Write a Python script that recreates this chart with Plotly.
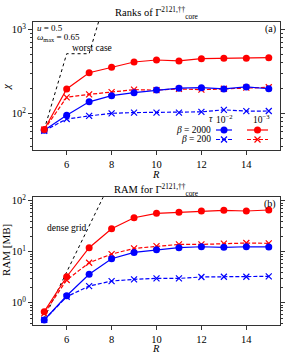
import plotly.graph_objects as go

R = [5, 6, 7, 8, 9, 10, 11, 12, 13, 14, 15]

# Panel (a): ranks chi
chi_b2000_t2 = [63, 95, 137, 162, 176, 189, 199, 202, 195, 206, 196]
chi_b2000_t3 = [64, 195, 304, 353, 408, 431, 420, 447, 452, 452, 459]
chi_b200_t2 = [62, 85.5, 93, 100, 102, 102, 102, 104, 110, 106, 106.5]
chi_b200_t3 = [64, 155, 168, 179, 191, 189, 195, 191, 196, 202, 204]
R_worst = [5, 6, 7, 8]
chi_worst = [64, 512, 512, 4096]

# Panel (b): RAM [MB]
ram_b2000_t2 = [0.458, 1.37, 3.6, 7.3, 9.7, 10.96, 12.0, 12.5, 12.2, 12.5, 12.4]
ram_b2000_t3 = [0.667, 3.23, 12.0, 28.3, 46.4, 56.6, 59.2, 62.8, 64.7, 62.8, 65.7]
ram_b200_t2 = [0.46, 1.31, 2.12, 2.66, 2.87, 3.0, 3.0, 3.19, 3.23, 3.23, 3.29]
ram_b200_t3 = [0.62, 2.79, 6.08, 9.0, 11.6, 12.9, 13.9, 13.9, 14.4, 14.8, 14.6]
R_dense = [5, 6, 7, 8]
ram_dense = [0.5, 4, 32, 256]

x_ticks = [6, 8, 10, 12, 14]
top_ticks = [100, 1000]
top_ticktext = ["10<sup>2</sup>", "10<sup>3</sup>"]
bot_ticks = [1, 10, 100]
bot_ticktext = ["10<sup>0</sup>", "10<sup>1</sup>", "10<sup>2</sup>"]

BLUE = "#0000ff"
RED = "#ff0000"
FONT = "Liberation Serif"
DASH = "4px,2px"

fig = go.Figure()

def add_series(x, y, color, solid, xa, ya):
    if solid:
        fig.add_trace(go.Scatter(x=x, y=y, mode="lines+markers", xaxis=xa, yaxis=ya,
                                 line=dict(color=color, width=1.2),
                                 marker=dict(symbol="circle", size=7, color=color),
                                 showlegend=False))
    else:
        fig.add_trace(go.Scatter(x=x, y=y, mode="lines+markers", xaxis=xa, yaxis=ya,
                                 line=dict(color=color, width=1.2, dash=DASH),
                                 marker=dict(symbol="x-thin", size=6, color=color,
                                             line=dict(color=color, width=1.2)),
                                 showlegend=False))

# top panel
fig.add_trace(go.Scatter(x=R_worst, y=chi_worst, mode="lines", xaxis="x", yaxis="y",
                         line=dict(color="black", width=1, dash="dot"), showlegend=False))
add_series(R, chi_b200_t2, BLUE, False, "x", "y")
add_series(R, chi_b200_t3, RED, False, "x", "y")
add_series(R, chi_b2000_t2, BLUE, True, "x", "y")
add_series(R, chi_b2000_t3, RED, True, "x", "y")

# bottom panel
fig.add_trace(go.Scatter(x=R_dense, y=ram_dense, mode="lines", xaxis="x2", yaxis="y2",
                         line=dict(color="black", width=1, dash="dot"), showlegend=False))
add_series(R, ram_b200_t2, BLUE, False, "x2", "y2")
add_series(R, ram_b200_t3, RED, False, "x2", "y2")
add_series(R, ram_b2000_t2, BLUE, True, "x2", "y2")
add_series(R, ram_b2000_t3, RED, True, "x2", "y2")

# legend samples on a pixel-coordinate overlay axis
for (x0, x1, color, solid, yy) in [(216, 232, BLUE, True, 130), (247, 268, RED, True, 130),
                                   (216, 232, BLUE, False, 139.5), (247, 268, RED, False, 139.5)]:
    xm = (x0 + x1) / 2
    if solid:
        fig.add_trace(go.Scatter(x=[x0, xm, x1], y=[yy, yy, yy], mode="lines", xaxis="x3", yaxis="y3",
                                 line=dict(color=color, width=1.2), showlegend=False))
        fig.add_trace(go.Scatter(x=[xm], y=[yy], mode="markers", xaxis="x3", yaxis="y3",
                                 marker=dict(symbol="circle", size=7, color=color), showlegend=False))
    else:
        fig.add_trace(go.Scatter(x=[x0, x1], y=[yy, yy], mode="lines", xaxis="x3", yaxis="y3",
                                 line=dict(color=color, width=1.2, dash=DASH), showlegend=False))
        fig.add_trace(go.Scatter(x=[xm], y=[yy], mode="markers", xaxis="x3", yaxis="y3",
                                 marker=dict(symbol="x-thin", size=6, color=color,
                                             line=dict(color=color, width=1.2)), showlegend=False))

W, H = 286, 360
xdom = [33 / W, 280 / W]
top_dom = [1 - 150 / H, 1 - 22 / H]
bot_dom = [1 - 325 / H, 1 - 197.3 / H]

axis_common = dict(showgrid=False, zeroline=False, showline=True, linecolor="#333333",
                   linewidth=1, ticks="outside", ticklen=4, tickcolor="#333333",
                   automargin=False,
                   tickfont=dict(family=FONT, size=10.5, color="black"))

fig.update_layout(
    width=W, height=H,
    margin=dict(l=0, r=0, t=0, b=0, autoexpand=False),
    paper_bgcolor="white", plot_bgcolor="rgba(0,0,0,0)",
    font=dict(family=FONT, size=10, color="black"),
    xaxis=dict(domain=xdom, anchor="y", range=[4.5, 15.5], tickmode="array", tickvals=x_ticks,
               mirror=True, **axis_common),
    yaxis=dict(domain=top_dom, anchor="x", type="log", range=[1.563, 3.087],
               tickmode="array", tickvals=top_ticks, ticktext=top_ticktext, mirror="ticks",
               minor=dict(ticks="outside", ticklen=2, tickcolor="#333333", dtick="D1"),
               **axis_common),
    xaxis2=dict(domain=xdom, anchor="y2", range=[4.5, 15.5], tickmode="array", tickvals=x_ticks,
                mirror=True, **axis_common),
    yaxis2=dict(domain=bot_dom, anchor="x2", type="log", range=[-0.437, 2.067],
                tickmode="array", tickvals=bot_ticks, ticktext=bot_ticktext, mirror="ticks",
                minor=dict(ticks="outside", ticklen=2, tickcolor="#333333", dtick="D1"),
                **axis_common),
    xaxis3=dict(domain=[0, 1], anchor="y3", range=[0, W], visible=False, fixedrange=True,
                automargin=False),
    yaxis3=dict(domain=[0, 1], anchor="x3", range=[H, 0], visible=False, fixedrange=True,
                automargin=False),
)

def txt(x, y, s, size=10, xanchor="left", angle=0):
    fig.add_annotation(x=x / W, y=1 - y / H, xref="paper", yref="paper", text=s,
                       showarrow=False, xanchor=xanchor, yanchor="middle", textangle=angle,
                       font=dict(family=FONT, size=size, color="black"))

txt(156, 13, "Ranks of Γ<sup>2121,††</sup><sub>core</sub>", 10.5, "center")
txt(156, 190, "RAM for Γ<sup>2121,††</sup><sub>core</sub>", 10.5, "center")
txt(156, 174, "<i>R</i>", 10.5, "center")
txt(156, 348, "<i>R</i>", 10.5, "center")
txt(6, 87, "<i>χ</i>", 11, "center", -90)
txt(6, 250, "RAM [MB]", 11, "center", -90)
txt(35, 28, "<i>u</i> = 0.5", 9)
txt(35, 38, "<i>ω</i><sub>max</sub> = 0.65", 9)
txt(70, 48, "worst case", 9.5)
txt(278, 29, "(a)", 10, "right")
txt(45, 228, "dense grid", 9.5)
txt(278, 204, "(b)", 10, "right")
txt(207, 119, "<i>τ</i>", 9.5)
txt(214, 119, "10<sup>−2</sup>", 9.5)
txt(251, 119, "10<sup>−3</sup>", 9.5)
txt(213, 130, "<i>β</i> = 2000", 9.5, "right")
txt(213, 139.5, "<i>β</i> = 200", 9.5, "right")

fig.write_html("out.html", config={"displayModeBar": False},
               post_script="document.body.style.margin='0';document.body.style.overflow='hidden';")
